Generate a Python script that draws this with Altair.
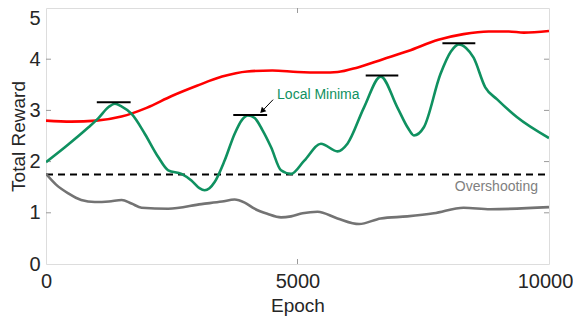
import altair as alt
import pandas as pd

# ---- data ----
red_x = [0, 500, 1000, 1500, 2000, 2500, 3000, 3500, 4000, 4500, 5000, 5500, 5800, 6200, 6700, 7200, 7800, 8300, 8800, 9200, 9500, 10000]
red_y = [2.80, 2.78, 2.80, 2.88, 3.05, 3.28, 3.48, 3.66, 3.76, 3.78, 3.75, 3.74, 3.75, 3.84, 4.00, 4.16, 4.38, 4.49, 4.54, 4.54, 4.52, 4.55]

green_x = [0, 400, 845, 1043, 1250, 1370, 1500, 1703, 1966, 2231, 2430, 2693, 2891, 3050, 3155, 3250, 3353, 3551, 3749, 3900, 4013, 4150, 4300, 4475, 4673, 4871, 5135, 5465, 5795, 5993, 6323, 6654, 6984, 7200, 7314, 7512, 7842, 8050, 8205, 8350, 8501, 8733, 8964, 9360, 10000]
green_y = [1.99, 2.30, 2.67, 2.85, 3.07, 3.13, 3.08, 2.93, 2.54, 2.09, 1.83, 1.76, 1.63, 1.48, 1.44, 1.48, 1.60, 2.02, 2.54, 2.82, 2.90, 2.85, 2.62, 2.28, 1.83, 1.76, 2.02, 2.35, 2.20, 2.35, 3.06, 3.66, 3.06, 2.65, 2.51, 2.67, 3.71, 4.15, 4.29, 4.22, 4.03, 3.45, 3.22, 2.87, 2.46]

gray_x = [0, 200, 442, 700, 970, 1250, 1505, 1700, 1901, 2430, 3089, 3500, 3749, 3950, 4146, 4400, 4673, 4871, 5100, 5399, 5795, 6224, 6654, 7182, 7710, 8303, 8832, 10000]
gray_y = [1.76, 1.55, 1.38, 1.25, 1.21, 1.22, 1.25, 1.18, 1.10, 1.08, 1.17, 1.22, 1.26, 1.20, 1.08, 0.98, 0.91, 0.93, 0.99, 1.02, 0.89, 0.78, 0.89, 0.93, 0.99, 1.10, 1.07, 1.11]

threshold = 1.75

peak_start = [1010, 3723, 6356, 7881]
peak_end = [1683, 4396, 7004, 8535]
peak_level = [3.16, 2.91, 3.68, 4.31]

x_ticks = [0, 5000, 10000]
y_ticks = [0, 1, 2, 3, 4, 5]
inner_y_ticks = [1, 2, 3, 4]
inner_x_ticks = [5000]

minima_label = "Local Minima"
minima_pos = (4594, 3.31)
arrow_tail = (4515, 3.21)
arrow_head = (4310, 3.00)
over_label = "Overshooting"
over_pos = (9782, 1.50)

# ---- chart ----
W, H = 503, 256
FONT = "Liberation Sans"
xs = alt.Scale(domain=[0, 10000], nice=False, zero=False)
ys = alt.Scale(domain=[0, 5], nice=False)

xax = alt.Axis(values=x_ticks, format="d", title="Epoch", labelFontSize=20, titleFontSize=19,
               titleFontWeight="normal", tickSize=0, domain=False, grid=False,
               labelPadding=7, titlePadding=5, labelFlush=False, labelOverlap=False,
               labelOffset={"expr": "datum.value == 10000 ? -4 : 0"},
               labelColor="#262626", titleColor="#262626", labelFont=FONT, titleFont=FONT)
yax = alt.Axis(values=y_ticks, format="d", title="Total Reward", labelFontSize=20, titleFontSize=19,
               titleFontWeight="normal", tickSize=0, domain=False, grid=False,
               labelPadding=6, titlePadding=0, labelFlush=False, labelOverlap=False,
               labelOffset={"expr": "datum.value == 5 ? 10 : 0"},
               labelColor="#262626", titleColor="#262626", labelFont=FONT, titleFont=FONT)

def X(f):
    return alt.X(f, scale=xs, axis=xax, title="Epoch")

def Y(f):
    return alt.Y(f, scale=ys, axis=yax, title="Total Reward")

def line_layer(xv, yv, color, width=2.6, dash=None):
    df = pd.DataFrame({"x": xv, "y": yv})
    kw = dict(color=color, strokeWidth=width, interpolate="monotone", clip=True)
    if dash:
        kw["strokeDash"] = dash
    return alt.Chart(df).mark_line(**kw).encode(x=X("x:Q"), y=Y("y:Q"))

thr = line_layer([0, 10000], [threshold, threshold], "black", width=2, dash=[7, 5])
gray = line_layer(gray_x, gray_y, "#737373")
red = line_layer(red_x, red_y, "#ff0000")
green = line_layer(green_x, green_y, "#0f9160")

bars = alt.Chart(pd.DataFrame({"x1": peak_start, "x2": peak_end, "y": peak_level})).mark_rule(
    color="black", strokeWidth=2).encode(x=X("x1:Q"), x2="x2:Q", y=Y("y:Q"))

# inward frame ticks
lt = pd.DataFrame({"v": inner_y_ticks})
left_ticks = alt.Chart(lt).mark_rule(color="#9a9a9a", strokeWidth=1).encode(
    y=Y("v:Q"), x=alt.value(0), x2=alt.value(5))
right_ticks = alt.Chart(lt).mark_rule(color="#9a9a9a", strokeWidth=1).encode(
    y=Y("v:Q"), x=alt.value(W - 5), x2=alt.value(W))
bt = pd.DataFrame({"v": inner_x_ticks})
bottom_ticks = alt.Chart(bt).mark_rule(color="#9a9a9a", strokeWidth=1).encode(
    x=X("v:Q"), y=alt.value(H - 5), y2=alt.value(H))
top_ticks = alt.Chart(bt).mark_rule(color="#9a9a9a", strokeWidth=1).encode(
    x=X("v:Q"), y=alt.value(0), y2=alt.value(5))

minima_text = alt.Chart(pd.DataFrame({"x": [minima_pos[0]], "y": [minima_pos[1]], "t": [minima_label]})).mark_text(
    align="left", baseline="middle", fontSize=14, font=FONT, color="#0f9160").encode(
    x=X("x:Q"), y=Y("y:Q"), text="t:N")

arrow_line = alt.Chart(pd.DataFrame({"x": [arrow_tail[0]], "y": [arrow_tail[1]],
                                     "x2": [arrow_head[0]], "y2": [arrow_head[1]]})).mark_rule(
    color="black", strokeWidth=1).encode(x=X("x:Q"), y=Y("y:Q"), x2="x2:Q", y2="y2:Q")
arrow_tip = alt.Chart(pd.DataFrame({"x": [arrow_head[0]], "y": [arrow_head[1]]})).mark_point(
    shape="triangle", angle=225, size=40, filled=True, color="black", opacity=1).encode(
    x=X("x:Q"), y=Y("y:Q"))

over_text = alt.Chart(pd.DataFrame({"x": [over_pos[0]], "y": [over_pos[1]], "t": [over_label]})).mark_text(
    align="right", baseline="middle", fontSize=14, font=FONT, color="#808080").encode(
    x=X("x:Q"), y=Y("y:Q"), text="t:N")

chart = alt.layer(
    thr, left_ticks, right_ticks, bottom_ticks, top_ticks,
    gray, red, green, bars, minima_text, arrow_line, arrow_tip, over_text
).properties(
    width=W, height=H,
    autosize=alt.AutoSizeParams(type="none"),
    padding={"left": 38, "top": 0, "right": 24, "bottom": 53},
).configure_view(stroke="#9a9a9a", strokeWidth=1).configure(background="white")

chart.save("out.html", embed_options={"renderer": "svg", "actions": False})
